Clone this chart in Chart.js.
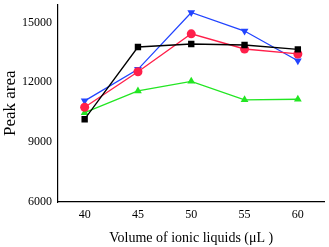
<!DOCTYPE html>
<html><head><meta charset="utf-8">
<script src="https://cdn.jsdelivr.net/npm/chart.js@4/dist/chart.umd.min.js"></script>
<style>html,body{margin:0;padding:0;background:#fff}#w{width:329px;height:247px}</style>
</head><body><div id="w"><canvas id="c"></canvas></div>
<script>
const volumes = [40, 45, 50, 55, 60];
const blackSquares = [10150, 13770, 13920, 13870, 13650];
const redCircles = [10750, 12530, 14430, 13670, 13420];
const blueDownTriangles = [11070, 12650, 15500, 14570, 13080];
const greenTriangles = [10480, 11570, 12050, 11120, 11150];
const yTickValues = [6000, 7500, 9000, 10500, 12000, 13500, 15000];
const xTickValues = [40, 42.5, 45, 47.5, 50, 52.5, 55, 57.5, 60];
const yTitle = 'Peak area';
const xTitle = 'Volume of ionic liquids (\u03bcL )';

const F = '"Liberation Serif","Times New Roman",serif';
function ds(label, vals, color, style, rot) {
  return {label, data: volumes.map((v,i)=>({x:v,y:vals[i]})), borderColor: color, backgroundColor: color,
    borderWidth: 1.3, pointStyle: style, pointRotation: rot||0, pointRadius: 4.5,
    pointBorderWidth: 0, tension: 0};
}
new Chart(document.getElementById('c'), {
  type: 'line',
  data: { datasets: [
    ds('A', blackSquares, '#000000', 'rect'),
    ds('B', redCircles, '#ff1f4a', 'circle'),
    ds('C', blueDownTriangles, '#2244ff', 'triangle', 180),
    ds('D', greenTriangles, '#22e622', 'triangle'),
  ]},
  options: {
    responsive: true, maintainAspectRatio: false, animation: false,
    layout: { padding: { left: 0, right: 0, top: 0, bottom: 0 } },
    plugins: { legend: { display: false }, tooltip: { enabled: false } },
    scales: {
      x: { type: 'linear', min: 37.5, max: 62.5,
        afterBuildTicks: s => { s.ticks = xTickValues.map(v=>({value:v})); },
        afterFit: s => { s.height = 45; s.paddingRight = 0; },
        grid: { display: false, drawOnChartArea: false, drawTicks: true, tickLength: 4, tickColor: '#000' },
        border: { display: true, color: '#000', width: 1.2 },
        ticks: { color: '#000', font: { family: F, size: 12 }, padding: 2, maxRotation: 0, autoSkip: false,
          callback: v => (v % 5 === 0 ? String(v) : '') },
        title: { display: true, text: xTitle, color: '#000', font: { family: F, size: 14 }, padding: { top: 2, bottom: 0 } }
      },
      y: { type: 'linear', min: 6000, max: 15900,
        afterBuildTicks: s => { s.ticks = yTickValues.map(v=>({value:v})); },
        afterFit: s => { s.width = 58; s.paddingTop = 0; },
        grid: { display: false, drawOnChartArea: false, drawTicks: true, tickLength: 4, tickColor: '#000' },
        border: { display: true, color: '#000', width: 1.2 },
        ticks: { color: '#000', font: { family: F, size: 12 }, padding: 2, autoSkip: false,
          callback: v => (v % 3000 === 0 ? String(v) : '') },
        title: { display: true, text: yTitle, color: '#000', font: { family: F, size: 17 }, padding: { top: 0, bottom: 4 } }
      }
    }
  }
});
</script></body></html>
